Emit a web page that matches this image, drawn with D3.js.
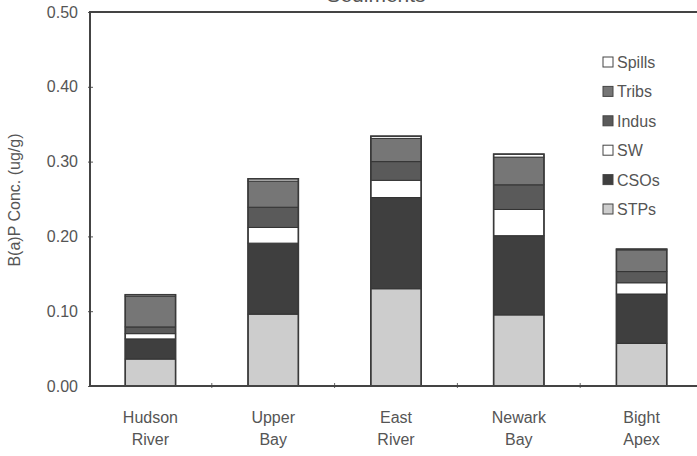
<!DOCTYPE html>
<html>
<head>
<meta charset="utf-8">
<script src="https://cdn.jsdelivr.net/npm/d3@7"></script>
<style>
  html, body { margin: 0; padding: 0; background: #fff; }
  svg { display: block; }
  text { font-family: Arial, "Liberation Sans", Helvetica, sans-serif; fill: #555; }
</style>
</head>
<body>
<svg id="chart" width="697" height="456"></svg>
<script>
// B(a)P loading by source, stacked per water body
const sites = [["Hudson", "River"], ["Upper", "Bay"], ["East", "River"], ["Newark", "Bay"], ["Bight", "Apex"]];
const siteKeys = ["Hudson River", "Upper Bay", "East River", "Newark Bay", "Bight Apex"];

// stacking order, bottom to top
const sources = ["STPs", "CSOs", "SW", "Indus", "Tribs", "Spills"];

const STPs   = [0.036, 0.096, 0.130, 0.095, 0.057];
const CSOs   = [0.027, 0.095, 0.122, 0.106, 0.066];
const SW     = [0.007, 0.021, 0.023, 0.035, 0.015];
const Indus  = [0.009, 0.027, 0.025, 0.033, 0.015];
const Tribs  = [0.041, 0.035, 0.031, 0.037, 0.029];
const Spills = [0.002, 0.003, 0.003, 0.004, 0.001];

const yTicks = [0.00, 0.10, 0.20, 0.30, 0.40, 0.50];
const legendOrder = ["Spills", "Tribs", "Indus", "SW", "CSOs", "STPs"];

const fills = {
  STPs: "#cdcdcd",
  CSOs: "#3f3f3f",
  SW: "#ffffff",
  Indus: "#5a5a5a",
  Tribs: "#767676",
  Spills: "#ffffff"
};

const seriesValues = { STPs, CSOs, SW, Indus, Tribs, Spills };
const rows = siteKeys.map((k, i) => {
  const r = { site: k };
  sources.forEach(s => r[s] = seriesValues[s][i]);
  return r;
});

const svg = d3.select("#chart");
const plot = { left: 90, right: 697, top: 12, bottom: 386 };

const x = d3.scaleBand()
  .domain(siteKeys)
  .range([89, 703])
  .paddingInner(0.59)
  .paddingOuter(0.295);

const y = d3.scaleLinear()
  .domain([0, 0.5])
  .range([plot.bottom, plot.top]);

// title, running off the top edge
svg.append("text")
  .attr("x", 376).attr("y", 2)
  .attr("text-anchor", "middle")
  .attr("font-size", 21)
  .text("Sediments");

// stacked bars
const stack = d3.stack().keys(sources)(rows);
const layers = svg.append("g").selectAll("g")
  .data(stack)
  .join("g")
  .attr("fill", d => fills[d.key]);

layers.selectAll("rect")
  .data(d => d)
  .join("rect")
  .attr("x", d => x(d.data.site))
  .attr("width", x.bandwidth())
  .attr("y", d => y(d[1]))
  .attr("height", d => y(d[0]) - y(d[1]))
  .attr("stroke", "#333")
  .attr("stroke-width", 1);

// bar outlines
svg.append("g").selectAll("rect")
  .data(rows)
  .join("rect")
  .attr("x", d => x(d.site))
  .attr("width", x.bandwidth())
  .attr("y", d => y(d3.sum(sources, s => d[s])))
  .attr("height", d => plot.bottom - y(d3.sum(sources, s => d[s])))
  .attr("fill", "none")
  .attr("stroke", "#3a3a3a")
  .attr("stroke-width", 1.6);

// y axis
const yAxis = d3.axisLeft(y)
  .tickValues(yTicks)
  .tickFormat(d3.format(".2f"))
  .tickSize(0)
  .tickPadding(12);
const gy = svg.append("g")
  .attr("transform", `translate(${plot.left},0)`)
  .call(yAxis);
gy.select(".domain").remove();
gy.selectAll("text")
  .attr("font-size", 16)
  .attr("fill", "#555")
  .style("font-family", "Arial, 'Liberation Sans', sans-serif");
gy.selectAll(".tick").append("line")
  .attr("x1", -2).attr("x2", 3)
  .attr("stroke", "#555").attr("stroke-width", 1);

// x axis labels (two lines)
const xAxis = d3.axisBottom(x).tickSize(0).tickFormat("");
const gx = svg.append("g")
  .attr("transform", `translate(0,${plot.bottom})`)
  .call(xAxis);
gx.select(".domain").remove();
gx.selectAll(".tick").each(function(d, i) {
  const t = d3.select(this).append("text")
    .attr("text-anchor", "middle")
    .attr("font-size", 16)
    .attr("fill", "#555");
  t.append("tspan").attr("x", 0).attr("y", 37).text(sites[i][0]);
  t.append("tspan").attr("x", 0).attr("y", 59).text(sites[i][1]);
});

// category separators on the baseline
const step = x.step();
svg.append("g").selectAll("line")
  .data(siteKeys.slice(0, -1))
  .join("line")
  .attr("x1", d => x(d) + x.bandwidth() / 2 + step / 2)
  .attr("x2", d => x(d) + x.bandwidth() / 2 + step / 2)
  .attr("y1", plot.bottom - 3)
  .attr("y2", plot.bottom + 2)
  .attr("stroke", "#666").attr("stroke-width", 1);

// frame lines
svg.append("line")
  .attr("x1", plot.left).attr("x2", plot.right)
  .attr("y1", plot.top).attr("y2", plot.top)
  .attr("stroke", "#444").attr("stroke-width", 2);
svg.append("line")
  .attr("x1", plot.left).attr("x2", plot.right)
  .attr("y1", plot.bottom).attr("y2", plot.bottom)
  .attr("stroke", "#444").attr("stroke-width", 2);
svg.append("line")
  .attr("x1", plot.left).attr("x2", plot.left)
  .attr("y1", plot.top - 1).attr("y2", plot.bottom + 1)
  .attr("stroke", "#444").attr("stroke-width", 2);

// y axis title
svg.append("text")
  .attr("transform", `translate(20,200) rotate(-90)`)
  .attr("text-anchor", "middle")
  .attr("font-size", 16)
  .text("B(a)P Conc. (ug/g)");

// legend
const legendY = d3.scalePoint()
  .domain(legendOrder)
  .range([62, 209]);
const lg = svg.append("g").selectAll("g")
  .data(legendOrder)
  .join("g")
  .attr("transform", d => `translate(603,${legendY(d)})`);
lg.append("rect")
  .attr("x", 0).attr("y", -5)
  .attr("width", 10).attr("height", 10)
  .attr("fill", d => fills[d])
  .attr("stroke", "#444").attr("stroke-width", 1);
lg.append("text")
  .attr("x", 14).attr("y", 6)
  .attr("font-size", 16)
  .text(d => d);
</script>
</body>
</html>
